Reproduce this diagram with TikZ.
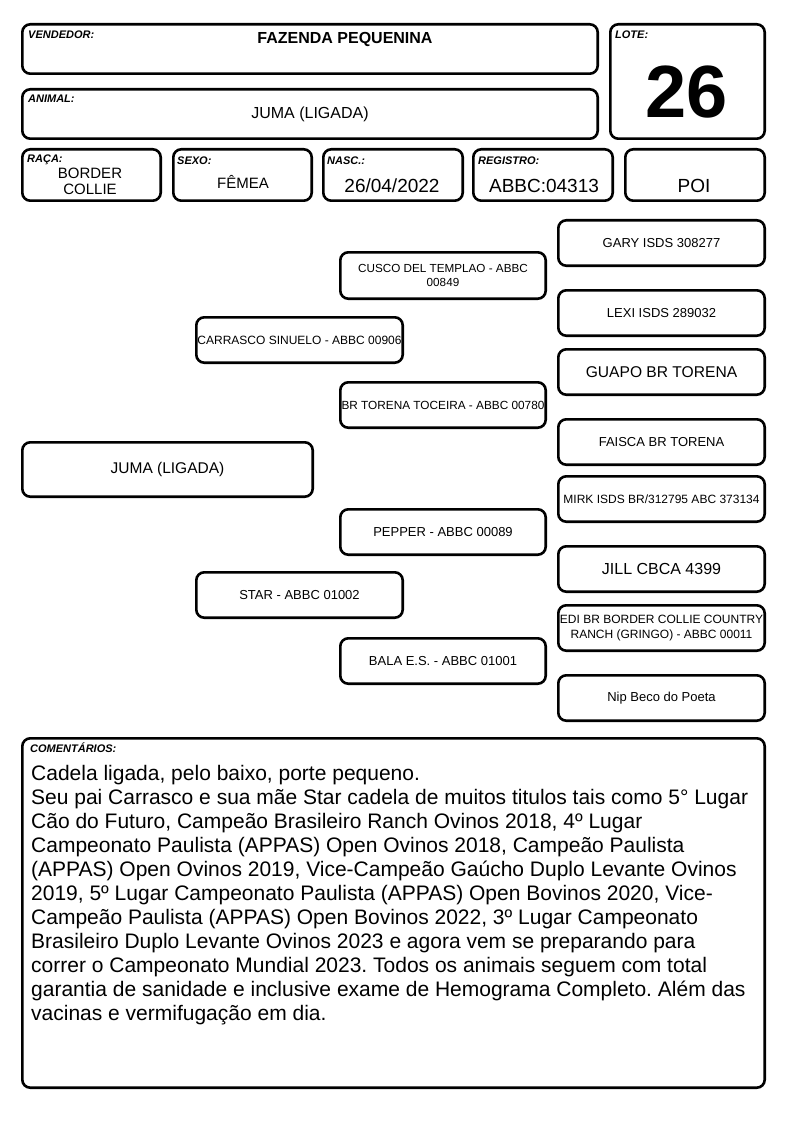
\documentclass[tikz,border=0pt]{standalone}
\usepackage{fontspec}
\setmainfont{Liberation Sans}
\frenchspacing
\newcommand\fs[2]{\fontsize{#1}{#2}\selectfont}
\tikzset{
  box/.style={draw, line width=2.6pt, rounded corners=8pt, inner sep=0pt, align=center},
  lbl/.style={anchor=base west, inner sep=0pt, font=\fs{11}{12}\bfseries\itshape},
  val/.style={anchor=base, inner sep=0pt},
}
\newcommand\bx[6]{\node[box, minimum width={#4-#2-2.6}, minimum height={#5-#3-2.6}, #6] (#1) at ({(#2+#4)/2},{(#3+#5)/2})}
\begin{document}
\begin{tikzpicture}[x=1pt,y=-1pt]
\useasboundingbox[fill=white] (0,0) rectangle (794,1123);
% header boxes
\bx{vend}{21}{23}{599}{75}{} {};
\bx{anim}{21}{88}{599}{140}{} {};
\bx{lote}{609}{23}{766}{140}{} {};
\bx{raca}{21}{148}{162}{202}{} {};
\bx{sexo}{172}{148}{313}{202}{} {};
\bx{nasc}{322}{148}{464}{202}{} {};
\bx{regi}{472}{148}{614}{202}{} {};
\bx{poi}{624}{148}{766}{202}{} {};
% header labels
\node[lbl] (lvend) at (28,39) {VENDEDOR:};
\node[lbl] (lanim) at (28,103) {ANIMAL:};
\node[lbl] (llote) at (615,39) {LOTE:};
\node[lbl] (lraca) at (27,163) {RAÇA:};
\node[lbl] (lsexo) at (177,165) {SEXO:};
\node[lbl] (lnasc) at (327,165) {NASC.:};
\node[lbl] (lregi) at (478,165) {REGISTRO:};
% header values
\node[val, font=\fs{16}{18}\bfseries] (tvend) at (345,43.5) {FAZENDA PEQUENINA};
\node[val, font=\fs{16}{18}] (tanim) at (310,119) {JUMA (LIGADA)};
\node[val, font=\fs{74}{80}\bfseries] (tlote) at (687,118) {26};
\node[val, font=\fs{15}{17}] (traca1) at (90,179) {BORDER};
\node[val, font=\fs{15}{17}] (traca2) at (90,195) {COLLIE};
\node[val, font=\fs{15}{17}] (tsexo) at (243,189) {FÊMEA};
\node[val, font=\fs{19}{21}] (tnasc) at (392,193) {26/04/2022};
\node[val, font=\fs{19}{21}] (tregi) at (544,193) {ABBC:04313};
\node[val, font=\fs{19}{21}] (tpoi) at (694,193) {POI};
% pedigree
\bx{juma}{21}{441}{314}{498}{font=\fs{15.5}{18}} {JUMA (LIGADA)};
\bx{carr}{195}{316}{404}{364}{font=\fs{12}{14}} {CARRASCO SINUELO - ABBC 00906};
\bx{star}{195}{571}{404}{619}{font=\fs{13}{15}} {STAR - ABBC 01002};
\bx{cusc}{339}{251}{547}{300}{font=\fs{11.7}{14.5}} {CUSCO DEL TEMPLAO - ABBC\\00849};
\bx{toce}{339}{381}{547}{429}{font=\fs{11.8}{14}} {BR TORENA TOCEIRA - ABBC 00780};
\bx{pepp}{339}{508}{547}{556}{font=\fs{13}{15}} {PEPPER - ABBC 00089};
\bx{bala}{339}{637}{547}{685}{font=\fs{13}{15}} {BALA E.S. - ABBC 01001};
\bx{gary}{557}{219}{766}{267}{font=\fs{13}{15}} {GARY ISDS 308277};
\bx{lexi}{557}{289}{766}{337}{font=\fs{13}{15}} {LEXI ISDS 289032};
\bx{guap}{557}{348}{766}{396}{font=\fs{15.6}{18}} {GUAPO BR TORENA};
\bx{fais}{557}{418}{766}{466}{font=\fs{13}{15}} {FAISCA BR TORENA};
\bx{mirk}{557}{475}{766}{523}{font=\fs{12}{14}} {MIRK ISDS BR/312795 ABC 373134};
\bx{jill}{557}{545}{766}{593}{font=\fs{16}{18}} {JILL CBCA 4399};
\bx{edi}{557}{604}{766}{652}{font=\fs{12}{15}} {EDI BR BORDER COLLIE COUNTRY\\RANCH (GRINGO) - ABBC 00011};
\bx{nip}{557}{674}{766}{722}{font=\fs{13}{15}} {Nip Beco do Poeta};
% comments
\bx{coment}{21}{737}{766}{1089}{} {};
\node[lbl] (lcoment) at (30,752) {COMENTÁRIOS:};
\node[anchor=north west, inner sep=0pt, align=left, font=\fs{21}{24}] (tcoment) at (31,765.5) {Cadela ligada, pelo baixo, porte pequeno.\\
Seu pai Carrasco e sua mãe Star cadela de muitos titulos tais como 5° Lugar\\
Cão do Futuro, Campeão Brasileiro Ranch Ovinos 2018, 4º Lugar\\
Campeonato Paulista (APPAS) Open Ovinos 2018, Campeão Paulista\\
(APPAS) Open Ovinos 2019, Vice-Campeão Gaúcho Duplo Levante Ovinos\\
2019, 5º Lugar Campeonato Paulista (APPAS) Open Bovinos 2020, Vice-\\
Campeão Paulista (APPAS) Open Bovinos 2022, 3º Lugar Campeonato\\
Brasileiro Duplo Levante Ovinos 2023 e agora vem se preparando para\\
correr o Campeonato Mundial 2023. Todos os animais seguem com total\\
garantia de sanidade e inclusive exame de Hemograma Completo. Além das\\
vacinas e vermifugação em dia.};
\end{tikzpicture}
\end{document}
